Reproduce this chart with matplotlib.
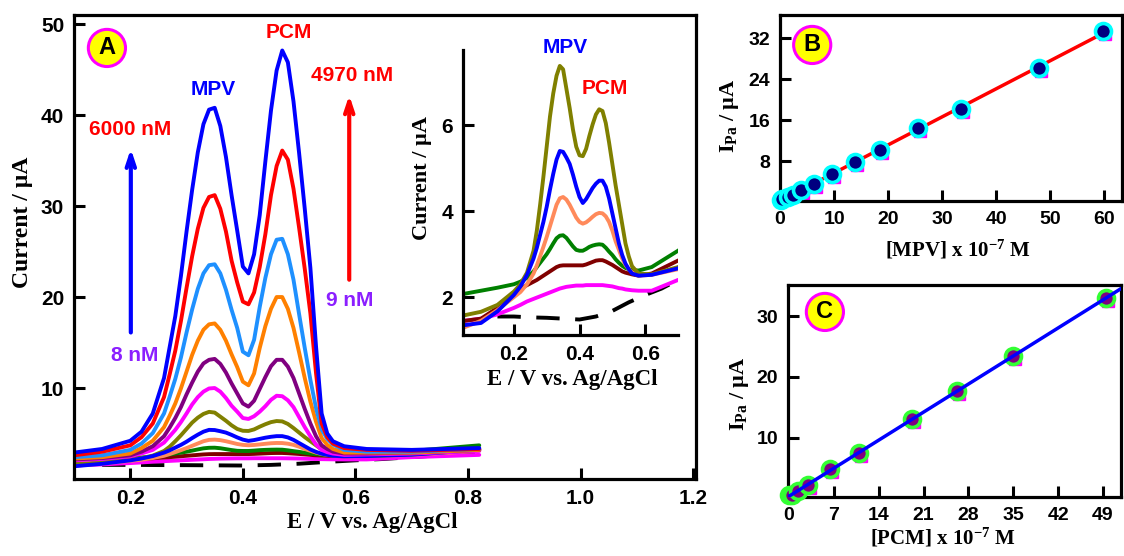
import numpy as np
import matplotlib
matplotlib.use("Agg")
import matplotlib.pyplot as plt
from matplotlib import transforms

# potential grid (V) shared by all voltammograms
E = [0.05, 0.10, 0.15, 0.20, 0.22, 0.24, 0.26, 0.27, 0.28, 0.29, 0.30, 0.31, 0.32,
     0.33, 0.34, 0.35, 0.36, 0.37, 0.38, 0.39, 0.40, 0.41, 0.42, 0.43, 0.44, 0.45,
     0.46, 0.47, 0.48, 0.49, 0.50, 0.51, 0.52, 0.53, 0.54, 0.55, 0.56, 0.58, 0.62,
     0.70, 0.82]

# currents (uA), lowest to highest concentration
i_magenta_low = [1.45, 1.5, 1.6, 1.75, 1.82, 1.9, 1.96, 1.99, 2.02, 2.05, 2.08, 2.11, 2.14,
                 2.17, 2.2, 2.22, 2.24, 2.25, 2.26, 2.27, 2.27, 2.27, 2.28, 2.28, 2.28, 2.28,
                 2.28, 2.28, 2.27, 2.26, 2.25, 2.23, 2.21, 2.2, 2.18, 2.17, 2.16, 2.15, 2.15,
                 2.4, 2.65]
i_maroon = [1.45, 1.5, 1.75, 2.1, 2.2, 2.28, 2.36, 2.4, 2.45, 2.5, 2.55, 2.6, 2.65,
            2.7, 2.73, 2.74, 2.74, 2.74, 2.74, 2.74, 2.74, 2.74, 2.76, 2.79, 2.82, 2.85,
            2.86, 2.86, 2.83, 2.79, 2.75, 2.7, 2.65, 2.6, 2.57, 2.55, 2.53, 2.5, 2.55,
            2.85, 3.3]
i_green = [2.08, 2.15, 2.22, 2.3, 2.36, 2.45, 2.6, 2.7, 2.8, 2.9, 3.0, 3.12, 3.25,
           3.37, 3.43, 3.44, 3.38, 3.28, 3.18, 3.1, 3.08, 3.08, 3.12, 3.17, 3.2, 3.22,
           3.23, 3.22, 3.15, 3.06, 2.98, 2.88, 2.8, 2.73, 2.68, 2.65, 2.63, 2.62, 2.7,
           3.08, 3.7]
i_coral = [1.3, 1.45, 1.7, 2.0, 2.12, 2.3, 2.55, 2.74, 2.95, 3.17, 3.4, 3.65, 3.9,
           4.15, 4.3, 4.33, 4.27, 4.15, 4.0, 3.85, 3.75, 3.71, 3.74, 3.8, 3.87, 3.93,
           3.96, 3.95, 3.88, 3.75, 3.55, 3.3, 3.1, 2.9, 2.75, 2.65, 2.58, 2.5, 2.52,
           2.65, 3.1]
i_blue_small = [1.35, 1.40, 1.67, 2.05, 2.25, 2.52, 2.9, 3.15, 3.45, 3.75, 4.1, 4.5, 4.87,
                5.2, 5.4, 5.38, 5.25, 5.1, 4.85, 4.57, 4.33, 4.19, 4.28, 4.41, 4.54, 4.64,
                4.71, 4.71, 4.57, 4.3, 3.95, 3.6, 3.25, 2.98, 2.78, 2.65, 2.55, 2.5, 2.52,
                2.67, 3.2]
i_olive = [1.58, 1.66, 1.82, 2.13, 2.3, 2.57, 3.08, 3.55, 4.15, 4.8, 5.5, 6.2, 6.74,
           7.15, 7.38, 7.3, 6.85, 6.4, 5.9, 5.5, 5.3, 5.28, 5.45, 5.75, 6.02, 6.25,
           6.37, 6.33, 6.05, 5.6, 5.1, 4.6, 4.15, 3.7, 3.25, 2.95, 2.72, 2.55, 2.53,
           2.7, 3.2]
i_magenta = [1.95, 2.05, 2.2, 2.5, 2.8, 3.2, 4.0, 4.7, 5.4, 6.25, 7.2, 8.2, 9.0,
             9.6, 9.95, 10.0, 9.6, 8.9, 8.05, 7.4, 6.7, 6.6, 6.9, 7.4, 8.0, 8.7,
             9.15, 9.1, 8.65, 7.9, 6.8, 5.7, 4.7, 3.8, 3.2, 2.95, 2.8, 2.65, 2.7,
             2.8, 3.1]
i_purple = [2.05, 2.15, 2.3, 2.6, 3.0, 3.6, 4.7, 5.65, 6.7, 7.9, 9.3, 10.6, 11.8,
            12.7, 13.1, 13.2, 12.65, 11.7, 10.5, 9.4, 8.3, 7.95, 8.6, 9.9, 11.2, 12.4,
            13.1, 13.1, 12.35, 11.1, 9.4, 7.7, 6.1, 4.7, 3.7, 3.3, 3.0, 2.8, 2.8,
            2.9, 3.2]
i_orange = [2.15, 2.25, 2.4, 2.8, 3.4, 4.2, 5.7, 6.95, 8.3, 9.95, 11.8, 13.65, 15.2,
            16.4, 17.0, 17.1, 16.4, 15.2, 13.7, 12.3, 10.7, 10.3, 11.6, 14.4, 16.8, 18.7,
            20.0, 20.0, 18.7, 16.6, 13.9, 11.1, 8.5, 6.3, 4.5, 3.75, 3.3, 2.9, 2.9,
            2.9, 3.2]
i_lightblue = [2.3, 2.4, 2.6, 3.2, 3.9, 5.05, 7.2, 9.05, 11.0, 13.35, 16.1, 18.65, 20.9,
               22.6, 23.5, 23.6, 22.6, 20.8, 18.6, 16.6, 14.0, 13.6, 15.3, 18.9, 22.1, 24.7,
               26.3, 26.4, 24.7, 21.9, 18.1, 14.4, 10.9, 7.8, 5.45, 4.4, 3.8, 3.2, 3.0,
               3.0, 3.3]
i_red = [2.4, 2.6, 3.0, 3.7, 4.6, 6.1, 9.0, 11.5, 14.1, 17.35, 21.0, 24.5, 27.5,
         29.8, 31.0, 31.2, 29.7, 27.2, 24.0, 21.6, 19.5, 19.2, 20.5, 23.3, 26.9, 31.2,
         34.4, 36.1, 35.1, 31.9, 27.6, 23.1, 18.2, 11.65, 6.1, 4.6, 3.9, 3.4, 3.2,
         3.1, 3.3]
i_blue_top = [2.7, 2.9, 3.3, 4.2, 5.2, 7.2, 11.1, 14.5, 17.9, 22.3, 27.2, 31.8, 35.9,
              39.0, 40.6, 40.8, 38.8, 35.4, 31.2, 27.3, 23.35, 22.6, 24.7, 29.0, 34.9, 40.5,
              44.9, 47.1, 45.8, 41.5, 35.8, 29.7, 23.2, 14.6, 7.2, 5.0, 4.15, 3.6, 3.3,
              3.2, 3.4]

# blank electrolyte (dashed)
E_blank = [0.15, 0.20, 0.25, 0.30, 0.35, 0.40, 0.45, 0.50, 0.55, 0.60, 0.65, 0.70, 0.82]
i_blank = [1.55, 1.55, 1.53, 1.52, 1.5, 1.48, 1.55, 1.68, 1.88, 2.05, 2.2, 2.4, 2.9]

# calibration data
mpv_conc = [0.1, 0.3, 1.4, 2.35, 3.9, 6.2, 9.6, 13.8, 18.5, 25.6, 33.5, 48.0, 59.8]
mpv_ipa = [0.45, 0.53, 1.03, 1.37, 2.34, 3.5, 5.46, 7.75, 10.15, 14.4, 18.1, 26.2, 33.4]
pcm_conc = [0.09, 0.42, 1.45, 3.0, 6.4, 11.0, 19.2, 26.3, 34.9, 49.4]
pcm_ipa = [0.5, 0.58, 1.3, 2.2, 4.8, 7.5, 13.0, 17.7, 23.4, 32.9]

curves = [(i_magenta_low, "#ff00ff"), (i_maroon, "#800000"), (i_green, "#008000"),
          (i_coral, "#ff8a5b"), (i_olive, "#808000"), (i_blue_small, "#0000ff"),
          (i_magenta, "#ff00ff"), (i_purple, "#800080"), (i_orange, "#ff8000"),
          (i_lightblue, "#1e90ff"), (i_red, "#ff0000"), (i_blue_top, "#0000ff")]
inset_curves = curves[:6]

plt.rcParams['font.family'] = ['Liberation Sans', 'DejaVu Sans']
plt.rcParams['font.weight'] = 'bold'
plt.rcParams['mathtext.fontset'] = 'custom'
plt.rcParams['mathtext.rm'] = 'Liberation Serif:bold'
plt.rcParams['mathtext.it'] = 'Liberation Serif:bold'
plt.rcParams['mathtext.bf'] = 'Liberation Serif:bold'

serif = dict(family='Liberation Serif', weight='bold')
narrow = dict(family=['Liberation Sans Narrow', 'Liberation Sans'], weight='bold')
LW = 2.8


def style(ax, size=15, lw=2.3):
    ax.tick_params(direction='in', length=8, width=2.2, labelsize=size, pad=7)
    for s in ax.spines.values():
        s.set_linewidth(lw)
    for lab in ax.get_xticklabels() + ax.get_yticklabels():
        lab.set_fontweight('bold')


def badge(ax, x, y, letter):
    ax.text(x, y, letter, transform=ax.transAxes, ha='center', va='center',
            fontsize=17, fontweight='bold', zorder=10,
            bbox=dict(boxstyle='circle,pad=0.3', fc='#ffff00', ec='#ff00ff', lw=2.2))


def curve(ax, x, y, col):
    ax.plot(x, y, color=col, lw=LW, solid_joinstyle='round', solid_capstyle='round')


fig = plt.figure(figsize=(11.24, 5.56), dpi=100)

# ---------------- panel A ----------------
axA = fig.add_axes([0.0658, 0.1385, 0.5534, 0.8345])
axA.plot(E_blank, i_blank, color='k', lw=LW, dashes=(6, 4))
for vals, col in curves:
    curve(axA, E, vals, col)
axA.set_xlim(0.1, 1.205)
axA.set_ylim(0, 51)
axA.set_xticks([0.2, 0.4, 0.6, 0.8, 1.0, 1.2])
axA.set_yticks([10, 20, 30, 40, 50])
style(axA)
axA.set_ylabel('Current / µA', fontdict=serif, fontsize=17)
axA.yaxis.set_label_coords(-0.066, 0.554)
axA.set_xlabel('E / V vs. Ag/AgCl', fontdict=serif, fontsize=16.5)
axA.xaxis.set_label_coords(0.479, -0.072)
badge(axA, 0.053, 0.929, 'A')

txt = dict(ha='center', va='center', fontsize=15, **narrow)
axA.text(0.482, 49.1, 'PCM', color='#ff0000', **txt)
axA.text(0.347, 42.8, 'MPV', color='#0000ff', **txt)
axA.text(0.594, 44.3, '4970 nM', color='#ff0000', **txt)
axA.text(0.20, 38.4, '6000 nM', color='#ff0000', **txt)
axA.text(0.208, 13.6, '8 nM', color='#8b1fff', **txt)
axA.text(0.589, 19.6, '9 nM', color='#8b1fff', **txt)
axA.annotate('', xy=(0.201, 36.6), xytext=(0.201, 15.8),
             arrowprops=dict(arrowstyle='->,head_length=0.9,head_width=0.3', color='#0000ff', lw=3))
axA.annotate('', xy=(0.589, 42.5), xytext=(0.589, 21.6),
             arrowprops=dict(arrowstyle='->,head_length=0.9,head_width=0.3', color='#ff0000', lw=3))

# ---------------- inset ----------------
axI = fig.add_axes([0.4119, 0.3975, 0.1913, 0.5126])
axI.patch.set_alpha(0)
axI.plot(E_blank, i_blank, color='k', lw=LW, dashes=(6, 4))
for vals, col in inset_curves:
    curve(axI, E, vals, col)
axI.set_xlim(0.045, 0.70)
axI.set_ylim(1.12, 7.75)
axI.set_xticks([0.2, 0.4, 0.6])
axI.set_yticks([2, 4, 6])
axI.spines['top'].set_visible(False)
axI.spines['right'].set_visible(False)
style(axI)
axI.set_ylabel('Current / µA', fontdict=serif, fontsize=16)
axI.yaxis.set_label_coords(-0.144, 0.55)
axI.set_xlabel('E / V vs. Ag/AgCl', fontdict=serif, fontsize=16.5)
axI.xaxis.set_label_coords(0.51, -0.12)
axI.text(0.356, 7.81, 'MPV', color='#0000ff', clip_on=False, **txt)
axI.text(0.478, 6.86, 'PCM', color='#ff0000', **txt)

# ---------------- panel B ----------------
axB = fig.add_axes([0.694, 0.6385, 0.3043, 0.3345])
kB = np.polyfit(mpv_conc, mpv_ipa, 1)
xB = np.array([min(mpv_conc), max(mpv_conc)])
axB.plot(mpv_conc, mpv_ipa, 's', color='#ff00ff', ms=9, ls='none',
         transform=transforms.offset_copy(axB.transData, fig=fig, x=2, y=-3, units='dots'))
axB.plot(xB, np.polyval(kB, xB), color='#ff0000', lw=2.5, zorder=3)
axB.plot(mpv_conc, mpv_ipa, 'o', ls='none', ms=11.5, mfc='#000080', mec='#00ffff', mew=2.6,
         zorder=4, clip_on=False)
axB.set_xlim(0, 63.3)
axB.set_ylim(0.2, 36.5)
axB.set_xticks([0, 10, 20, 30, 40, 50, 60])
axB.set_yticks([8, 16, 24, 32])
style(axB, size=14)
axB.set_ylabel('$I_{Pa}$ / µA', fontdict=serif, fontsize=16)
axB.yaxis.set_label_coords(-0.115, 0.46)
axB.set_xlabel('[MPV] x 10$^{-7}$ M', fontdict=serif, fontsize=15)
axB.xaxis.set_label_coords(0.52, -0.2)
badge(axB, 0.094, 0.839, 'B')

# ---------------- panel C ----------------
axC = fig.add_axes([0.701, 0.1061, 0.2963, 0.3813])
kC = np.polyfit(pcm_conc, pcm_ipa, 1)
xC = np.array([0, 51.8])
axC.plot(pcm_conc, pcm_ipa, 's', color='#ff00ff', ms=9, ls='none',
         transform=transforms.offset_copy(axC.transData, fig=fig, x=2, y=-3, units='dots'))
axC.plot(pcm_conc, pcm_ipa, 'o', ls='none', ms=11.5, mfc='#800080', mec='#33ff33', mew=2.6,
         zorder=3, clip_on=False)
axC.plot(xC, np.polyval(kC, xC), color='#0000ff', lw=2.5, zorder=4)
axC.set_xlim(-0.15, 51.8)
axC.set_ylim(0.25, 35.1)
axC.set_xticks([0, 7, 14, 21, 28, 35, 42, 49])
axC.set_yticks([10, 20, 30])
style(axC, size=14)
axC.set_ylabel('$I_{Pa}$ / µA', fontdict=serif, fontsize=16)
axC.yaxis.set_label_coords(-0.112, 0.486)
axC.set_xlabel('[PCM] x 10$^{-7}$ M', fontdict=serif, fontsize=15)
axC.xaxis.set_label_coords(0.465, -0.135)
badge(axC, 0.111, 0.873, 'C')

fig.savefig('out.png', dpi=100)
